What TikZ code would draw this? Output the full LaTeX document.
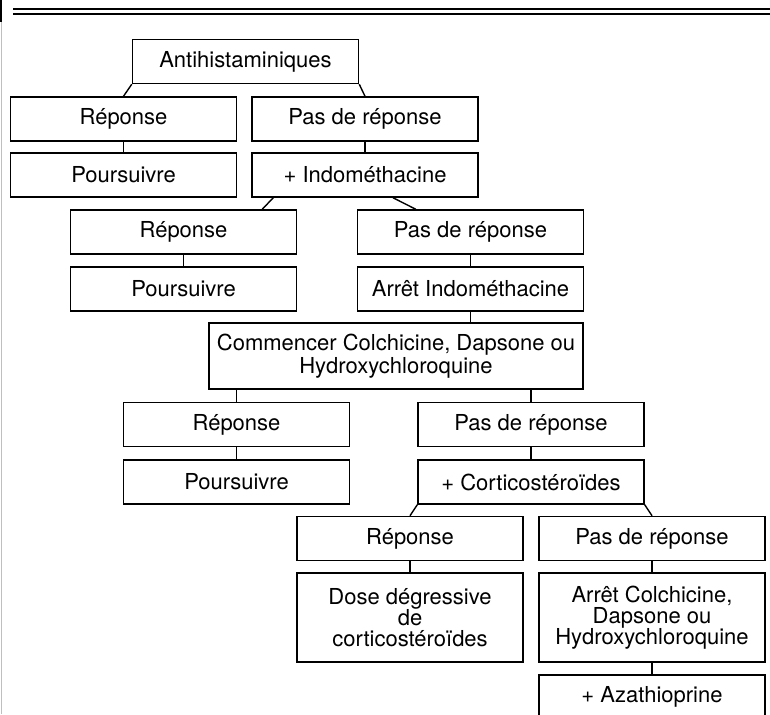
\documentclass[tikz,border=0pt]{standalone}
\usepackage{fontspec}
\setmainfont{TeX Gyre Heros}
\begin{document}
\begin{tikzpicture}[x=1pt,y=-1pt,
  boite/.style={draw,line width=1.5pt,minimum width=226pt,minimum height=44pt,
    inner sep=0pt,align=center,font=\fontsize{22}{21}\selectfont},
  lien/.style={line width=1.4pt}]
\useasboundingbox (0,0) rectangle (770,714);
\clip (0,0) rectangle (770,714);
% filets du haut et bord gauche
\draw[line width=2.2pt] (13,9) -- (770,9);
\draw[line width=1.8pt] (13,14) -- (770,14);
\draw[gray!50,line width=1pt] (1,0) -- (1,714);
\draw[line width=2pt] (1,0) -- (1,22);
\def\bx#1#2#3#4{\node[boite] (#1) at (#2,#3) {#4};}
\bx{anti}{245.5}{61.5}{Antihistaminiques}
\bx{rep1}{123.5}{119}{Réponse}
\bx{pas1}{365}{119}{Pas de réponse}
\bx{pour1}{123.5}{175}{Poursuivre}
\bx{indo}{365}{175}{+ Indométhacine}
\bx{rep2}{183.5}{232}{Réponse}
\bx{pas2}{470.5}{232}{Pas de réponse}
\bx{pour2}{183.5}{289}{Poursuivre}
\bx{arret1}{470.5}{289}{Arrêt Indométhacine}
\node[boite,minimum width=374pt,minimum height=66pt,font=\fontsize{22}{23}\selectfont]
  (comm) at (396,356) {Commencer Colchicine, Dapsone ou\\Hydroxychloroquine};
\bx{rep3}{236.5}{424.5}{Réponse}
\bx{pas3}{531}{424.5}{Pas de réponse}
\bx{pour3}{236.5}{482}{Poursuivre}
\bx{cort}{531}{482}{+ Corticostéroïdes}
\bx{rep4}{410}{538.5}{Réponse}
\bx{pas4}{652}{538.5}{Pas de réponse}
\node[boite,minimum height=89pt] (dose) at (410,617.5) {Dose dégressive\\de\\corticostéroïdes};
\node[boite,minimum height=89pt] (arret2) at (652,617.5) {Arrêt Colchicine,\\Dapsone ou\\Hydroxychloroquine};
\bx{aza}{652}{697}{+ Azathioprine}
% liens
\draw[lien] (anti.south west) -- (rep1.north);
\draw[lien] (anti.south east) -- (pas1.north);
\draw[lien] (rep1) -- (pour1);
\draw[lien] (pas1) -- (indo);
\draw[lien] ([xshift=22pt]indo.south west) -- ([xshift=-35pt]rep2.north east);
\draw[lien] ([xshift=28pt]indo.south) -- ([xshift=59pt]pas2.north west);
\draw[lien] (rep2) -- (pour2);
\draw[lien] (pas2) -- (arret1);
\draw[lien] (arret1.south) -- (arret1.south |- comm.north);
\draw[lien] (rep3.north) -- (rep3.north |- comm.south);
\draw[lien] (pas3.north) -- (pas3.north |- comm.south);
\draw[lien] (rep3) -- (pour3);
\draw[lien] (pas3) -- (cort);
\draw[lien] (cort.south west) -- (rep4.north);
\draw[lien] (cort.south east) -- (pas4.north);
\draw[lien] (rep4) -- (dose);
\draw[lien] (pas4) -- (arret2);
\draw[lien] (arret2) -- (aza);
\end{tikzpicture}
\end{document}
